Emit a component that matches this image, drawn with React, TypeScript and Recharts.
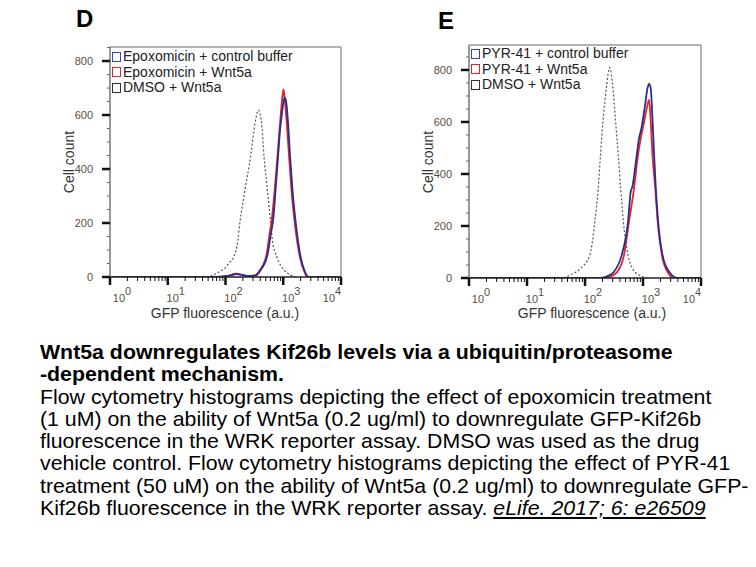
import React from 'react';
import { LineChart, Line, XAxis, YAxis, ReferenceLine } from 'recharts';

// GFP fluorescence (a.u.) vs cell count
const xTicksMajor = [1, 10, 100, 1000, 10000];
const xTicksAll = [
  1, 2, 3, 4, 5, 6, 7, 8, 9, 10, 20, 30, 40, 50, 60, 70, 80, 90, 100, 200, 300, 400, 500, 600, 700, 800, 900,
  1000, 2000, 3000, 4000, 5000, 6000, 7000, 8000, 9000, 10000,
];
const yTicksMajor = [0, 200, 400, 600, 800];
const yTicksAll = [0, 50, 100, 150, 200, 250, 300, 350, 400, 450, 500, 550, 600, 650, 700, 750, 800, 850];
const yMaxD = 852;
const yMaxE = 896;

// panel D
const dmsoD = [
  [40, 0], [55, 3], [76, 18], [100, 35], [114, 51], [140, 75], [164, 137], [177, 199], [217, 322], [272, 446],
  [324, 569], [371, 618], [423, 569], [464, 446], [531, 322], [607, 199], [648, 137], [771, 75], [1032, 26],
  [1349, 7], [1650, 0],
];
const epoxControlD = [
  [1, 0], [70, 0], [110, 4], [159, 11], [238, 4], [332, 5], [407, 26], [531, 80], [610, 160], [675, 220],
  [741, 330], [813, 446], [880, 545], [942, 600], [1010, 650], [1075, 663], [1130, 645], [1213, 569],
  [1315, 446], [1445, 322], [1650, 199], [1995, 75], [2367, 20], [2800, 0], [10000, 0],
];
const epoxWnt5aD = [
  [1, 0], [70, 0], [110, 4], [150, 12], [238, 4], [320, 6], [395, 26], [510, 80], [580, 160], [631, 210],
  [711, 322], [793, 446], [880, 569], [950, 650], [1007, 695], [1060, 660], [1151, 569], [1262, 446],
  [1387, 322], [1585, 199], [1936, 75], [2367, 15], [2600, 0], [10000, 0],
];

// panel E
const dmsoE = [
  [43, 0], [56, 12], [84, 37], [121, 88], [148, 217], [169, 345], [185, 473], [204, 601], [233, 729],
  [266, 809], [303, 729], [337, 601], [375, 473], [412, 345], [459, 217], [552, 88], [656, 37], [855, 12],
  [1194, 0],
];
const pyrControlE = [
  [1, 0], [185, 0], [250, 8], [316, 24], [429, 88], [552, 217], [614, 332], [656, 351], [780, 473],
  [855, 537], [940, 576], [1086, 665], [1194, 729], [1273, 746], [1361, 729], [1419, 665], [1556, 473],
  [1663, 345], [1824, 217], [2173, 88], [2831, 24], [3948, 0], [10000, 0],
];
const pyrWnt5aE = [
  [1, 0], [212, 0], [290, 8], [361, 24], [470, 88], [573, 217], [701, 345], [820, 473], [914, 537],
  [1045, 601], [1180, 660], [1273, 685], [1361, 601], [1456, 473], [1627, 345], [1790, 217], [2115, 88],
  [2637, 24], [3451, 0], [10000, 0],
];

const legendD = ['Epoxomicin + control buffer', 'Epoxomicin + Wnt5a', 'DMSO + Wnt5a'];
const legendE = ['PYR-41 + control buffer', 'PYR-41 + Wnt5a', 'DMSO + Wnt5a'];

const captionTitle = ['Wnt5a downregulates Kif26b levels via a ubiquitin/proteasome', '-dependent mechanism.'];
const captionBody = [
  'Flow cytometry histograms depicting the effect of epoxomicin treatment',
  '(1 uM) on the ability of Wnt5a (0.2 ug/ml) to downregulate GFP-Kif26b',
  'fluorescence in the WRK reporter assay. DMSO was used as the drug',
  'vehicle control. Flow cytometry histograms depicting the effect of PYR-41',
  'treatment (50 uM) on the ability of Wnt5a (0.2 ug/ml) to downregulate GFP-',
];
const captionLast = 'Kif26b fluorescence in the WRK reporter assay. ';
const citation = 'eLife. 2017; 6: e26509';

const BLUE = '#27308f';
const RED = '#e8202a';
const DOT = '#555';
const TICK_TEXT = '#5c4d40';
const FONT = '"Liberation Sans", Arial, sans-serif';

const toPoints = (arr: number[][]) => arr.map(([x, y]) => ({ x, y }));

function XTick({ x, y, payload }: any) {
  const v = payload.value;
  const major = xTicksMajor.includes(v);
  const exp = Math.round(Math.log10(v));
  const dx = exp === 0 ? 12 : exp === 4 ? -9 : 8;
  return (
    <g>
      <line
        x1={x}
        x2={x}
        y1={y}
        y2={y + (major ? 8 : 4)}
        stroke="#111"
        strokeWidth={major ? 2.5 : 1}
      />
      {major && (
        <text x={x + dx} y={y + 25} textAnchor="middle" fontSize={11} fill={TICK_TEXT} fontFamily={FONT}>
          <tspan>10</tspan>
          <tspan dy={-7} fontSize={11}>{exp}</tspan>
        </text>
      )}
    </g>
  );
}

function YTick({ x, y, payload }: any) {
  const v = payload.value;
  const major = yTicksMajor.includes(v);
  return (
    <g>
      <line
        x1={x}
        x2={x - (major ? 8 : 3)}
        y1={y}
        y2={y}
        stroke={major ? '#111' : '#666'}
        strokeWidth={major ? 2.5 : 1}
      />
      {major && (
        <text x={x - 17} y={y + 4} textAnchor="end" fontSize={11} fill={TICK_TEXT} fontFamily={FONT}>
          {v}
        </text>
      )}
    </g>
  );
}

function Histogram({
  dmso,
  control,
  wnt,
  yMax,
  margin,
}: {
  dmso: number[][];
  control: number[][];
  wnt: number[][];
  yMax: number;
  margin: { top: number; right: number; bottom: number; left: number };
}) {
  return (
    <LineChart width={360} height={330} margin={margin}>
      <XAxis
        dataKey="x"
        type="number"
        scale="log"
        domain={[1, 10000]}
        ticks={xTicksAll}
        interval={0}
        allowDataOverflow
        tick={<XTick />}
        tickLine={false}
        tickSize={0}
        tickMargin={0}
        axisLine={{ stroke: '#222', strokeWidth: 1.5 }}
        height={30}
      />
      <YAxis
        dataKey="y"
        type="number"
        domain={[0, yMax]}
        ticks={yTicksAll}
        interval={0}
        allowDataOverflow
        tick={<YTick />}
        tickLine={false}
        tickSize={0}
        tickMargin={0}
        axisLine={{ stroke: '#777', strokeWidth: 1.5 }}
        width={60}
      />
      <ReferenceLine y={yMax} stroke="#999" strokeWidth={1.5} />
      <ReferenceLine x={10000} stroke="#999" strokeWidth={1.5} />
      <Line
        data={toPoints(dmso)}
        dataKey="y"
        type="monotone"
        stroke={DOT}
        strokeWidth={1.2}
        strokeDasharray="2 2"
        dot={false}
        isAnimationActive={false}
      />
      <Line
        data={toPoints(wnt)}
        dataKey="y"
        type="monotone"
        stroke={RED}
        strokeWidth={1.8}
        dot={false}
        isAnimationActive={false}
      />
      <Line
        data={toPoints(control)}
        dataKey="y"
        type="monotone"
        stroke={BLUE}
        strokeWidth={1.8}
        dot={false}
        isAnimationActive={false}
      />
    </LineChart>
  );
}

function LegendBox({ items, left, top }: { items: string[]; left: number; top: number }) {
  const colors = ['#3346b5', '#e8202a', '#333'];
  return (
    <div style={{ position: 'absolute', left, top, fontSize: 14, lineHeight: '15.5px', color: '#222' }}>
      {items.map((label, i) => (
        <div key={label} style={{ display: 'flex', alignItems: 'center', whiteSpace: 'nowrap' }}>
          <span
            style={{
              display: 'inline-block',
              width: 7,
              height: 8,
              border: `1px solid ${colors[i]}`,
              marginRight: 2,
            }}
          />
          {label}
        </div>
      ))}
    </div>
  );
}

const abs = (left: number, top: number): React.CSSProperties => ({ position: 'absolute', left, top });

export default function App() {
  return (
    <div
      style={{
        position: 'absolute',
        left: 0,
        top: 0,
        width: 756,
        height: 567,
        background: '#fff',
        overflow: 'hidden',
        fontFamily: FONT,
      }}
    >
      <div style={{ ...abs(76, 5), fontSize: 24, fontWeight: 'bold' }}>D</div>
      <div style={{ ...abs(438, 7), fontSize: 24, fontWeight: 'bold' }}>E</div>

      <div style={abs(0, 0)}>
        <Histogram
          dmso={dmsoD}
          control={epoxControlD}
          wnt={epoxWnt5aD}
          yMax={yMaxD}
          margin={{ top: 47, right: 19, bottom: 23, left: 50 }}
        />
      </div>
      <div style={abs(360, 0)}>
        <Histogram
          dmso={dmsoE}
          control={pyrControlE}
          wnt={pyrWnt5aE}
          yMax={yMaxE}
          margin={{ top: 45, right: 19, bottom: 22, left: 49 }}
        />
      </div>

      <LegendBox items={legendD} left={112} top={49} />
      <LegendBox items={legendE} left={471} top={46} />

      <div
        style={{
          ...abs(69, 162),
          transform: 'translate(-50%, -50%) rotate(-90deg)',
          fontSize: 14,
          color: '#333',
          whiteSpace: 'nowrap',
        }}
      >
        Cell count
      </div>
      <div
        style={{
          ...abs(428, 162),
          transform: 'translate(-50%, -50%) rotate(-90deg)',
          fontSize: 14,
          color: '#333',
          whiteSpace: 'nowrap',
        }}
      >
        Cell count
      </div>
      <div style={{ ...abs(225, 313), transform: 'translate(-50%, -50%)', fontSize: 14, color: '#333', whiteSpace: 'nowrap' }}>
        GFP fluorescence (a.u.)
      </div>
      <div style={{ ...abs(592, 313), transform: 'translate(-50%, -50%)', fontSize: 14, color: '#333', whiteSpace: 'nowrap' }}>
        GFP fluorescence (a.u.)
      </div>

      <div
        style={{
          ...abs(40, 341),
          fontSize: 21,
          lineHeight: '22.3px',
          color: '#000',
          whiteSpace: 'nowrap',
          transform: 'scaleX(1.015)',
          transformOrigin: 'left top',
        }}
      >
        {captionTitle.map((t) => (
          <div key={t} style={{ fontWeight: 'bold' }}>
            {t}
          </div>
        ))}
        {captionBody.map((t) => (
          <div key={t}>{t}</div>
        ))}
        <div>
          {captionLast}
          <span style={{ fontStyle: 'italic', textDecoration: 'underline' }}>{citation}</span>
        </div>
      </div>
    </div>
  );
}
